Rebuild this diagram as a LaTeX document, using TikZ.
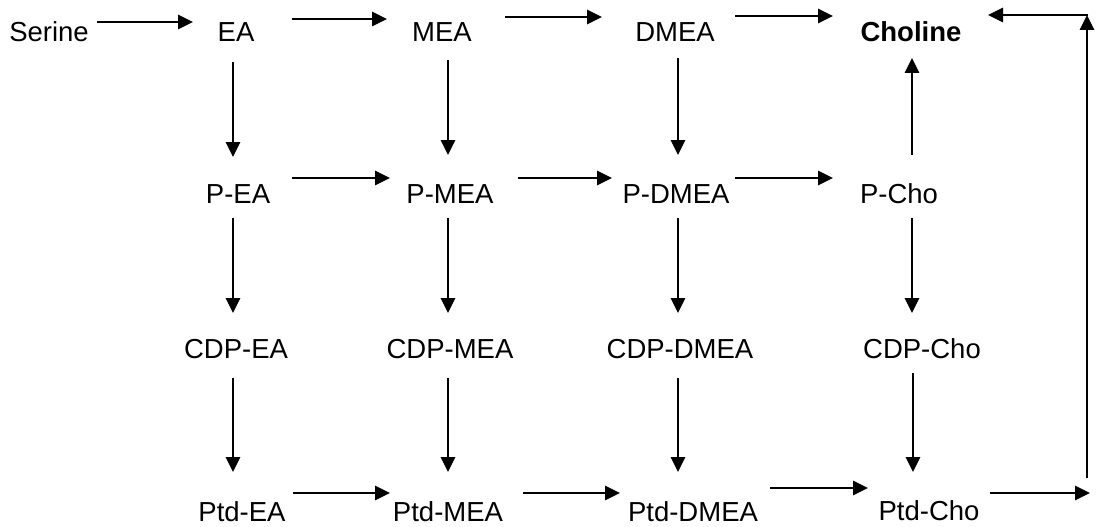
\documentclass[tikz,border=0pt]{standalone}
\usepackage{fontspec}
\setmainfont{Liberation Sans}
\usetikzlibrary{arrows.meta,calc}
\begin{document}
\begin{tikzpicture}[x=1pt,y=1pt,
  lbl/.style={inner sep=0pt,anchor=base,font=\fontsize{27.5}{33}\selectfont},
  arr/.style={line width=2.8pt,-{Triangle[length=15pt,width=14pt]}}]
\useasboundingbox[fill=white] (0,0) rectangle (1096,-527);
% row 1
\node[lbl] (Serine) at (49,-42) {Serine};
\node[lbl] (EA) at (236,-42) {EA};
\node[lbl] (MEA) at (442,-42) {MEA};
\node[lbl] (DMEA) at (675,-42) {DMEA};
\node[lbl,font=\fontsize{27.5}{33}\selectfont\bfseries] (Choline) at (911,-42) {Choline};
% row 2
\node[lbl] (PEA) at (238,-203) {P-EA};
\node[lbl] (PMEA) at (450,-203) {P-MEA};
\node[lbl] (PDMEA) at (676,-203) {P-DMEA};
\node[lbl] (PCho) at (899,-203) {P-Cho};
% row 3
\node[lbl] (CDPEA) at (236,-358) {CDP-EA};
\node[lbl] (CDPMEA) at (450,-358) {CDP-MEA};
\node[lbl] (CDPDMEA) at (680,-358) {CDP-DMEA};
\node[lbl] (CDPCho) at (922,-358) {CDP-Cho};
% row 4
\node[lbl] (PtdEA) at (242,-521) {Ptd-EA};
\node[lbl] (PtdMEA) at (448,-521) {Ptd-MEA};
\node[lbl] (PtdDMEA) at (693,-521) {Ptd-DMEA};
\node[lbl] (PtdCho) at (929,-520) {Ptd-Cho};
% return path
\coordinate (rc) at (1090,-493);
\coordinate (rb) at (1087,-478);
\coordinate (rt) at (1087,-15);
% row 1 arrows
\draw[arr] ($(Serine.base)+(48,20)$) -- ($(EA.base)+(-43,20)$);
\draw[arr] ($(EA.base)+(56,23)$) -- ($(MEA.base)+(-55,23)$);
\draw[arr] ($(MEA.base)+(63,25)$) -- ($(DMEA.base)+(-73,25)$);
\draw[arr] ($(DMEA.base)+(60,26)$) -- ($(Choline.base)+(-78,26)$);
% row 2 arrows
\draw[arr] ($(PEA.base)+(54,25)$) -- ($(PMEA.base)+(-60,25)$);
\draw[arr] ($(PMEA.base)+(68,25)$) -- ($(PDMEA.base)+(-64,25)$);
\draw[arr] ($(PDMEA.base)+(59,25)$) -- ($(PCho.base)+(-66,25)$);
% row 4 arrows
\draw[arr] ($(PtdEA.base)+(51,28)$) -- ($(PtdMEA.base)+(-58,28)$);
\draw[arr] ($(PtdMEA.base)+(75,28)$) -- ($(PtdDMEA.base)+(-73,28)$);
\draw[arr] ($(PtdDMEA.base)+(77,33)$) -- ($(PtdCho.base)+(-61,32)$);
\draw[arr] ($(PtdCho.base)+(61,27)$) -- (rc);
\draw[arr] (rb) -- (rt);
\draw[arr] ([xshift=1.4pt]rt) -- ($(Choline.base)+(77,27)$);
% column 1
\draw[arr] ($(EA.base)+(-3,-20)$) -- ($(PEA.base)+(-5,46)$);
\draw[arr] ($(PEA.base)+(-5,-15)$) -- ($(CDPEA.base)+(-3,45)$);
\draw[arr] ($(CDPEA.base)+(-3,-20)$) -- ($(PtdEA.base)+(-9,49)$);
% column 2
\draw[arr] ($(MEA.base)+(6,-18)$) -- ($(PMEA.base)+(-2,48)$);
\draw[arr] ($(PMEA.base)+(-2,-15)$) -- ($(CDPMEA.base)+(-2,45)$);
\draw[arr] ($(CDPMEA.base)+(-2,-20)$) -- ($(PtdMEA.base)+(0,49)$);
% column 3
\draw[arr] ($(DMEA.base)+(3,-16)$) -- ($(PDMEA.base)+(2,48)$);
\draw[arr] ($(PDMEA.base)+(2,-15)$) -- ($(CDPDMEA.base)+(-2,45)$);
\draw[arr] ($(CDPDMEA.base)+(-2,-20)$) -- ($(PtdDMEA.base)+(-15,49)$);
% column 4
\draw[arr] ($(PCho.base)+(13,48)$) -- ($(Choline.base)+(1,-16)$);
\draw[arr] ($(PCho.base)+(13,-15)$) -- ($(CDPCho.base)+(-10,45)$);
\draw[arr] ($(CDPCho.base)+(-9,-15)$) -- ($(PtdCho.base)+(-16,48)$);
\end{tikzpicture}
\end{document}
